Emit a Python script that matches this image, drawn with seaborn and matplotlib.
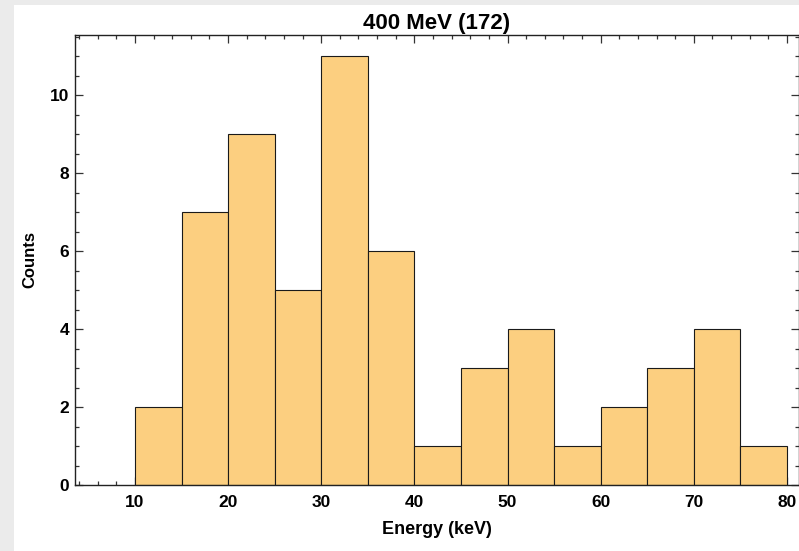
import matplotlib
matplotlib.use("Agg")
import matplotlib.pyplot as plt
import matplotlib.patches as mpatches
from matplotlib.ticker import MultipleLocator
import seaborn as sns

# histogram bins (keV) and counts
bin_edges = [10, 15, 20, 25, 30, 35, 40, 45, 50, 55, 60, 65, 70, 75, 80]
counts = [2, 7, 9, 5, 11, 6, 1, 3, 4, 1, 2, 3, 4, 1]
bin_centers = [(a + b) / 2 for a, b in zip(bin_edges[:-1], bin_edges[1:])]

title = "400 MeV (172)"
xlabel = "Energy (keV)"
ylabel = "Counts"

sns.set_style("ticks")
plt.rcParams["font.family"] = ["Liberation Sans", "DejaVu Sans"]
plt.rcParams["font.weight"] = "bold"

fig = plt.figure(figsize=(7.99, 5.51), dpi=100, facecolor="#ebebeb")
# white panel leaving a thin grey strip on the left and top
panel = mpatches.Rectangle((14 / 799, 0), 1, 1 - 5 / 551,
                           transform=fig.transFigure,
                           facecolor="white", edgecolor="none", zorder=-10)
fig.patches.append(panel)
ax = fig.add_axes([75 / 799, 1 - 485 / 551, 724 / 799, (485 - 34.5) / 551])
ax.set_facecolor("white")

sns.histplot(x=bin_centers, weights=counts, bins=bin_edges, ax=ax,
             color="#fccf80", alpha=1.0, edgecolor="#1a1a1a", linewidth=0.8)

ax.set_xlim(3.56, 81.3)
ax.set_ylim(0, 11.56)

ax.xaxis.set_major_locator(MultipleLocator(10))
ax.xaxis.set_minor_locator(MultipleLocator(2))
ax.yaxis.set_major_locator(MultipleLocator(2))
ax.yaxis.set_minor_locator(MultipleLocator(0.5))
ax.tick_params(which="both", direction="in", top=True, right=True,
               width=0.9, color="#333333", labelcolor="black")
ax.tick_params(which="major", length=6, labelsize=12.5)
ax.tick_params(axis="x", which="major", pad=7)
ax.tick_params(axis="y", which="major", pad=4)
ax.tick_params(which="minor", length=3)
for lab in ax.get_xticklabels() + ax.get_yticklabels():
    lab.set_fontweight("bold")

for s in ax.spines.values():
    s.set_visible(True)
    s.set_color("#222222")
    s.set_linewidth(1.0)

ax.set_title(title, fontsize=16, fontweight="bold", pad=4, color="black")
ax.set_xlabel(xlabel, fontsize=13, fontweight="bold", labelpad=8, color="black")
ax.set_ylabel(ylabel, fontsize=12, fontweight="bold", labelpad=9, color="black")

fig.savefig("out.png", dpi=100, facecolor=fig.get_facecolor())
